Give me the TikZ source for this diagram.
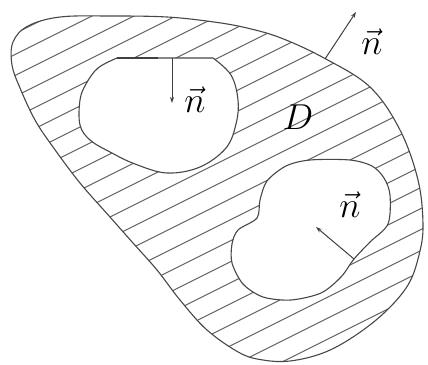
\documentclass[tikz,border=0pt]{standalone}
\usetikzlibrary{arrows.meta}
\tikzset{
  edge/.style={draw=black!72, line width=1.1pt, line join=round},
  hatch/.style={draw=black!62, line width=0.95pt},
  normal/.style={draw=black!75, line width=1pt, -{Stealth[length=6pt,width=4pt]}},
  lbl/.style={inner sep=0pt, font=\Huge, scale=1.45},
}
\begin{document}
\begin{tikzpicture}[x=1pt,y=-1pt]
\useasboundingbox (0,0) rectangle (428,364);
% hatching clipped to outer region
\begin{scope}
\clip plot[smooth cycle, tension=0.6] coordinates {(60,17) (110,16) (167,17) (214,22) (247,28) (281,38) (324,58) (370,87) (400,130) (418,180) (423,225) (419,255) (408,285) (384,313) (353,337) (323,353) (290,361) (263,360) (240,353) (207,330) (180,300) (157,270) (133,243) (110,217) (80,183) (53,147) (35,120) (20,88) (12,65) (13,42) (28,26)};
\foreach \c in {-1,20,...,640} {
  \draw[hatch] (0,\c) -- (428,\c-214);
}
\end{scope}
% hole 1
\filldraw[edge, fill=white] (213,58) -- (117,58) -- plot[smooth, tension=0.6] coordinates {(117,58) (98,68) (86,84) (80,100) (80,125) (90,140) (110,152) (135,164) (167,173) (200,167) (226,148) (236,124) (238,100) (231,75) (213,58)} -- cycle;
\draw[black!75, line width=2.2pt] (117,58) -- (158,58);
% hole 2
\filldraw[edge, fill=white] plot[smooth cycle, tension=0.5] coordinates {(310,160) (350,160) (372,166) (384,178) (390,195) (388,224) (370,242) (354,259) (341,277) (321,293) (291,300) (263,297) (243,284) (232,263) (232,244) (238,230) (257,218) (260,200) (267,181) (286,166)};
% outer boundary
\draw[edge] plot[smooth cycle, tension=0.6] coordinates {(60,17) (110,16) (167,17) (214,22) (247,28) (281,38) (324,58) (370,87) (400,130) (418,180) (423,225) (419,255) (408,285) (384,313) (353,337) (323,353) (290,361) (263,360) (240,353) (207,330) (180,300) (157,270) (133,243) (110,217) (80,183) (53,147) (35,120) (20,88) (12,65) (13,42) (28,26)};
% normals
\coordinate (a1s) at (172,58);
\coordinate (a1e) at (172,103);
\coordinate (a2s) at (325,59);
\coordinate (a2e) at (356,12);
\coordinate (a3s) at (354,259);
\coordinate (a3e) at (316,227);
\draw[normal] (a1s) -- (a1e);
\draw[normal] (a2s) -- (a2e);
\draw[normal] (a3s) -- (a3e);
% labels
\node[lbl] (n1) at (195,100) {$\vec{n}$};
\node[lbl] (n2) at (372,42) {$\vec{n}$};
\node[lbl] (n3) at (350,205) {$\vec{n}$};
\node[lbl] (d) at (298,117) {$D$};
\end{tikzpicture}
\end{document}
